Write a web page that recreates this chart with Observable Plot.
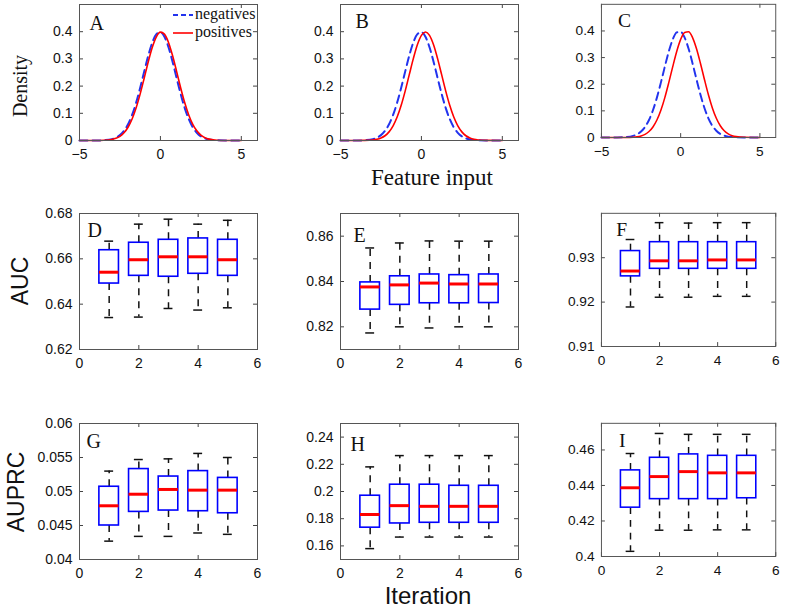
<!DOCTYPE html>
<html><head><meta charset="utf-8">
<script src="https://cdn.jsdelivr.net/npm/d3@7"></script>
<script src="https://cdn.jsdelivr.net/npm/@observablehq/plot@0.6"></script>
<style>
body{margin:0;background:#fff;}
#fig{position:relative;width:787px;height:608px;overflow:hidden;background:#fff;}
.panel{position:absolute;}
#overlay{position:absolute;left:0;top:0;pointer-events:none;}
</style></head><body><div id="fig"></div>
<script>
// ---------- data ----------
const densityX = [-5,-4,-3.5,-3,-2.75,-2.5,-2.25,-2,-1.75,-1.5,-1.25,-1,-0.75,-0.5,-0.25,0,0.25,0.5,0.75,1,1.25,1.5,1.75,2,2.25,2.5,2.75,3,3.25,3.5,4,5];
const negA = [0,0,0.001,0.0051,0.0104,0.0198,0.0355,0.0596,0.094,0.1394,0.1942,0.2541,0.3123,0.3605,0.391,0.3984,0.3814,0.3429,0.2897,0.2299,0.1714,0.12,0.079,0.0488,0.0283,0.0154,0.0079,0.0038,0.0017,0.0007,0,0];
const posA = [0,0,0.0007,0.0038,0.0079,0.0154,0.0283,0.0488,0.079,0.12,0.1714,0.2299,0.2897,0.3429,0.3814,0.3984,0.391,0.3605,0.3123,0.2541,0.1942,0.1394,0.094,0.0596,0.0355,0.0198,0.0104,0.0051,0.0024,0.001,0.0002,0];
const negB = [0,0,0.001,0.0051,0.0104,0.0198,0.0355,0.0596,0.094,0.1394,0.1942,0.2541,0.3123,0.3605,0.391,0.3984,0.3814,0.3429,0.2897,0.2299,0.1714,0.12,0.079,0.0488,0.0283,0.0154,0.0079,0.0038,0.0017,0.0007,0,0];
const posB = [0,0,0.0004,0.002,0.0044,0.0091,0.0175,0.0317,0.054,0.0863,0.1295,0.1826,0.242,0.3011,0.3521,0.3867,0.3989,0.3867,0.3521,0.3011,0.242,0.1826,0.1295,0.0863,0.054,0.0317,0.0175,0.0091,0.0044,0.002,0.0004,0];
const negC = [0,0.0002,0.0012,0.006,0.0119,0.0224,0.0396,0.0656,0.1023,0.1497,0.206,0.2661,0.323,0.3683,0.3945,0.397,0.3752,0.3332,0.278,0.2179,0.1604,0.1109,0.0721,0.044,0.0252,0.0136,0.0069,0.0033,0.0015,0.0006,0,0];
const posC = [0,0,0.0002,0.0012,0.0028,0.006,0.0119,0.0224,0.0396,0.0656,0.1023,0.1497,0.206,0.2661,0.323,0.3683,0.3945,0.397,0.3752,0.3332,0.278,0.2179,0.1604,0.1109,0.0721,0.044,0.0252,0.0136,0.0069,0.0033,0.0006,0];

const iterations = [1,2,3,4,5];
// each row: [lower whisker, q1, median, q3, upper whisker]
const boxD = [[0.6341,0.6491,0.6541,0.6638,0.6678],[0.6343,0.6525,0.6596,0.6671,0.6753],[0.6381,0.6521,0.6609,0.6684,0.6775],[0.6374,0.6534,0.6609,0.669,0.6753],[0.6384,0.6525,0.6596,0.6684,0.677]];
const boxE = [[0.8173,0.8276,0.8376,0.8396,0.8548],[0.82,0.8297,0.8385,0.8423,0.857],[0.8195,0.8304,0.8393,0.8431,0.8579],[0.82,0.8304,0.8389,0.8428,0.8578],[0.82,0.8305,0.8389,0.8431,0.8578]];
const boxF = [[0.9189,0.9258,0.927,0.9315,0.9341],[0.9211,0.9275,0.9293,0.9335,0.9379],[0.9211,0.9275,0.9293,0.9335,0.9378],[0.9213,0.9275,0.9295,0.9335,0.9379],[0.9213,0.9275,0.9295,0.9335,0.9379]];
const boxG = [[0.0427,0.045,0.0479,0.0507,0.053],[0.0434,0.047,0.0496,0.0533,0.0547],[0.0434,0.0472,0.0503,0.0522,0.0548],[0.0439,0.0471,0.0502,0.053,0.0556],[0.0437,0.0468,0.0502,0.052,0.055]];
const boxH = [[0.158,0.1734,0.1831,0.1969,0.2181],[0.1665,0.1765,0.1896,0.205,0.2264],[0.1665,0.177,0.1891,0.205,0.2264],[0.1665,0.177,0.1891,0.2042,0.2264],[0.1665,0.177,0.1891,0.2042,0.2264]];
const boxI = [[0.4029,0.4275,0.4387,0.4485,0.458],[0.4148,0.4323,0.445,0.4556,0.4693],[0.4148,0.4323,0.4478,0.4575,0.4688],[0.415,0.4323,0.4471,0.4567,0.4688],[0.415,0.4328,0.4471,0.4567,0.4688]];

const densityXTicks = [-5,0,5];
const densityYTicks = [0,0.1,0.2,0.3,0.4];
const iterTicks = [0,2,4,6];
const ticksD = [0.62,0.64,0.66,0.68];
const ticksE = [0.82,0.84,0.86];
const ticksF = [0.91,0.92,0.93];
const ticksG = [0.04,0.045,0.05,0.055,0.06];
const ticksH = [0.16,0.18,0.2,0.22,0.24];
const ticksI = [0.4,0.42,0.44,0.46];
const legendLabels = ["negatives","positives"];
const rowTitles = ["Density","AUC","AUPRC"];
const xTitles = ["Feature input","Iteration"];

// ---------- layout ----------
const fig = document.getElementById("fig");
const ML = 50, MR = 12, MT = 8, MB = 30, FW = 178, FH = 136;
const colLeft = [79, 340, 602];
const rowTop = [4, 213, 423];
const SERIF = "'Liberation Serif','Times New Roman',serif";
const SANS = "'Liberation Sans',Arial,Helvetica,sans-serif";
const BLUE = "#0000ff", DBLUE = "#2233ee", RED = "#ff0000", INK = "#111";
const fmt = d => (d < 0 ? "\u2212" + Math.abs(d) : String(d));

function place(node, col, row) {
  const d = document.createElement("div");
  d.className = "panel";
  d.style.left = (colLeft[col] - ML) + "px";
  d.style.top = (rowTop[row] - MT) + "px";
  d.appendChild(node);
  fig.appendChild(d);
}

function frameMarks(xTicks, yTicks, letter, dx, dy) {
  const tk = {stroke: "#444", strokeWidth: 1};
  return [
    Plot.ruleX(xTicks, {x: d => d, insetTop: FH - 4, ...tk}),
    Plot.ruleX(xTicks, {x: d => d, insetBottom: FH - 4, ...tk}),
    Plot.ruleY(yTicks, {y: d => d, insetRight: FW - 4, ...tk}),
    Plot.ruleY(yTicks, {y: d => d, insetLeft: FW - 4, ...tk}),
    Plot.frame({stroke: "#555", strokeWidth: 1}),
    Plot.text([letter], {text: d => d, frameAnchor: "top-left", textAnchor: "start", lineAnchor: "top", dx, dy, fontFamily: SERIF, fontSize: 20, fill: INK})
  ];
}

function base(xDomain, xTicks, yDomain, yTicks, marks) {
  return Plot.plot({
    width: ML + FW + MR, height: MT + FH + MB,
    marginLeft: ML, marginRight: MR, marginTop: MT, marginBottom: MB,
    style: {fontFamily: SANS, fontSize: "14px", background: "transparent", color: INK, overflow: "visible"},
    x: {domain: xDomain, ticks: xTicks, tickFormat: fmt, tickSize: 0, tickPadding: 9, label: null},
    y: {domain: yDomain, ticks: yTicks, tickFormat: fmt, tickSize: 0, tickPadding: 7, label: null},
    marks
  });
}

function densityPanel(neg, pos, letter, dx, dy) {
  const nd = densityX.map((x, i) => ({x, y: neg[i]}));
  const pd = densityX.map((x, i) => ({x, y: pos[i]}));
  return base([-5, 6], densityXTicks, [0, 0.5], densityYTicks, [
    Plot.line(nd, {x: "x", y: "y", stroke: DBLUE, strokeWidth: 2, strokeDasharray: "8,5", curve: "monotone-x"}),
    Plot.line(pd, {x: "x", y: "y", stroke: RED, strokeWidth: 1.6, curve: "monotone-x"}),
    ...frameMarks(densityXTicks, densityYTicks, letter, dx, dy)
  ]);
}

const BW = 0.33, CAP = 0.15;
function boxPanel(box, yDomain, yTicks, letter, dx, dy) {
  const rows = box.map((r, i) => ({it: iterations[i], lo: r[0], q1: r[1], med: r[2], q3: r[3], hi: r[4]}));
  const wk = {stroke: INK, strokeWidth: 1.5};
  return base([0, 6], iterTicks, yDomain, yTicks, [
    Plot.ruleX(rows, {x: "it", y1: "q3", y2: "hi", ...wk, strokeDasharray: "7,6"}),
    Plot.ruleX(rows, {x: "it", y1: "q1", y2: "lo", ...wk, strokeDasharray: "7,6"}),
    Plot.ruleY(rows, {y: "hi", x1: d => d.it - CAP, x2: d => d.it + CAP, ...wk}),
    Plot.ruleY(rows, {y: "lo", x1: d => d.it - CAP, x2: d => d.it + CAP, ...wk}),
    Plot.rect(rows, {x1: d => d.it - BW, x2: d => d.it + BW, y1: "q1", y2: "q3", fill: "white", stroke: BLUE, strokeWidth: 1.6}),
    Plot.ruleY(rows, {y: "med", x1: d => d.it - BW, x2: d => d.it + BW, stroke: RED, strokeWidth: 3}),
    ...frameMarks(iterTicks, yTicks, letter, dx, dy)
  ]);
}

place(densityPanel(negA, posA, "A", 10, 11), 0, 0);
place(densityPanel(negB, posB, "B", 15, 9), 1, 0);
place(densityPanel(negC, posC, "C", 17, 9), 2, 0);
place(boxPanel(boxD, [0.62, 0.68], ticksD, "D", 8, 9), 0, 1);
place(boxPanel(boxE, [0.81, 0.87], ticksE, "E", 13, 14), 1, 1);
place(boxPanel(boxF, [0.91, 0.94], ticksF, "F", 15, 9), 2, 1);
place(boxPanel(boxG, [0.04, 0.06], ticksG, "G", 7, 10), 0, 2);
place(boxPanel(boxH, [0.15, 0.25], ticksH, "H", 10, 13), 1, 2);
place(boxPanel(boxI, [0.4, 0.475], ticksI, "I", 18, 10), 2, 2);

// ---------- titles and legend overlay ----------
const NS = "http://www.w3.org/2000/svg";
const ov = document.createElementNS(NS, "svg");
ov.setAttribute("id", "overlay");
ov.setAttribute("width", 787); ov.setAttribute("height", 608);
fig.appendChild(ov);
function txt(s, x, y, o = {}) {
  const t = document.createElementNS(NS, "text");
  t.textContent = s;
  t.setAttribute("x", x); t.setAttribute("y", y);
  t.setAttribute("font-family", o.family || SANS);
  t.setAttribute("font-size", o.size || 14);
  t.setAttribute("fill", INK);
  t.setAttribute("text-anchor", o.anchor || "middle");
  if (o.rotate) t.setAttribute("transform", `rotate(-90 ${x} ${y})`);
  ov.appendChild(t);
}
function seg(x1, y, x2, stroke, w, dash) {
  const l = document.createElementNS(NS, "line");
  l.setAttribute("x1", x1); l.setAttribute("x2", x2);
  l.setAttribute("y1", y); l.setAttribute("y2", y);
  l.setAttribute("stroke", stroke); l.setAttribute("stroke-width", w);
  if (dash) l.setAttribute("stroke-dasharray", dash);
  ov.appendChild(l);
}
txt(rowTitles[0], 27, 86, {family: SERIF, size: 20, rotate: true});
txt(rowTitles[1], 28, 281, {size: 23, rotate: true});
txt(rowTitles[2], 24, 492, {size: 23, rotate: true});
txt(xTitles[0], 432, 185, {family: SERIF, size: 23});
txt(xTitles[1], 428, 604, {size: 24});
seg(173, 15, 193, DBLUE, 2, "5,3");
seg(173, 33, 193, RED, 1.6);
txt(legendLabels[0], 195, 18.5, {family: SERIF, size: 16, anchor: "start"});
txt(legendLabels[1], 195, 36.5, {family: SERIF, size: 16, anchor: "start"});
</script></body></html>
